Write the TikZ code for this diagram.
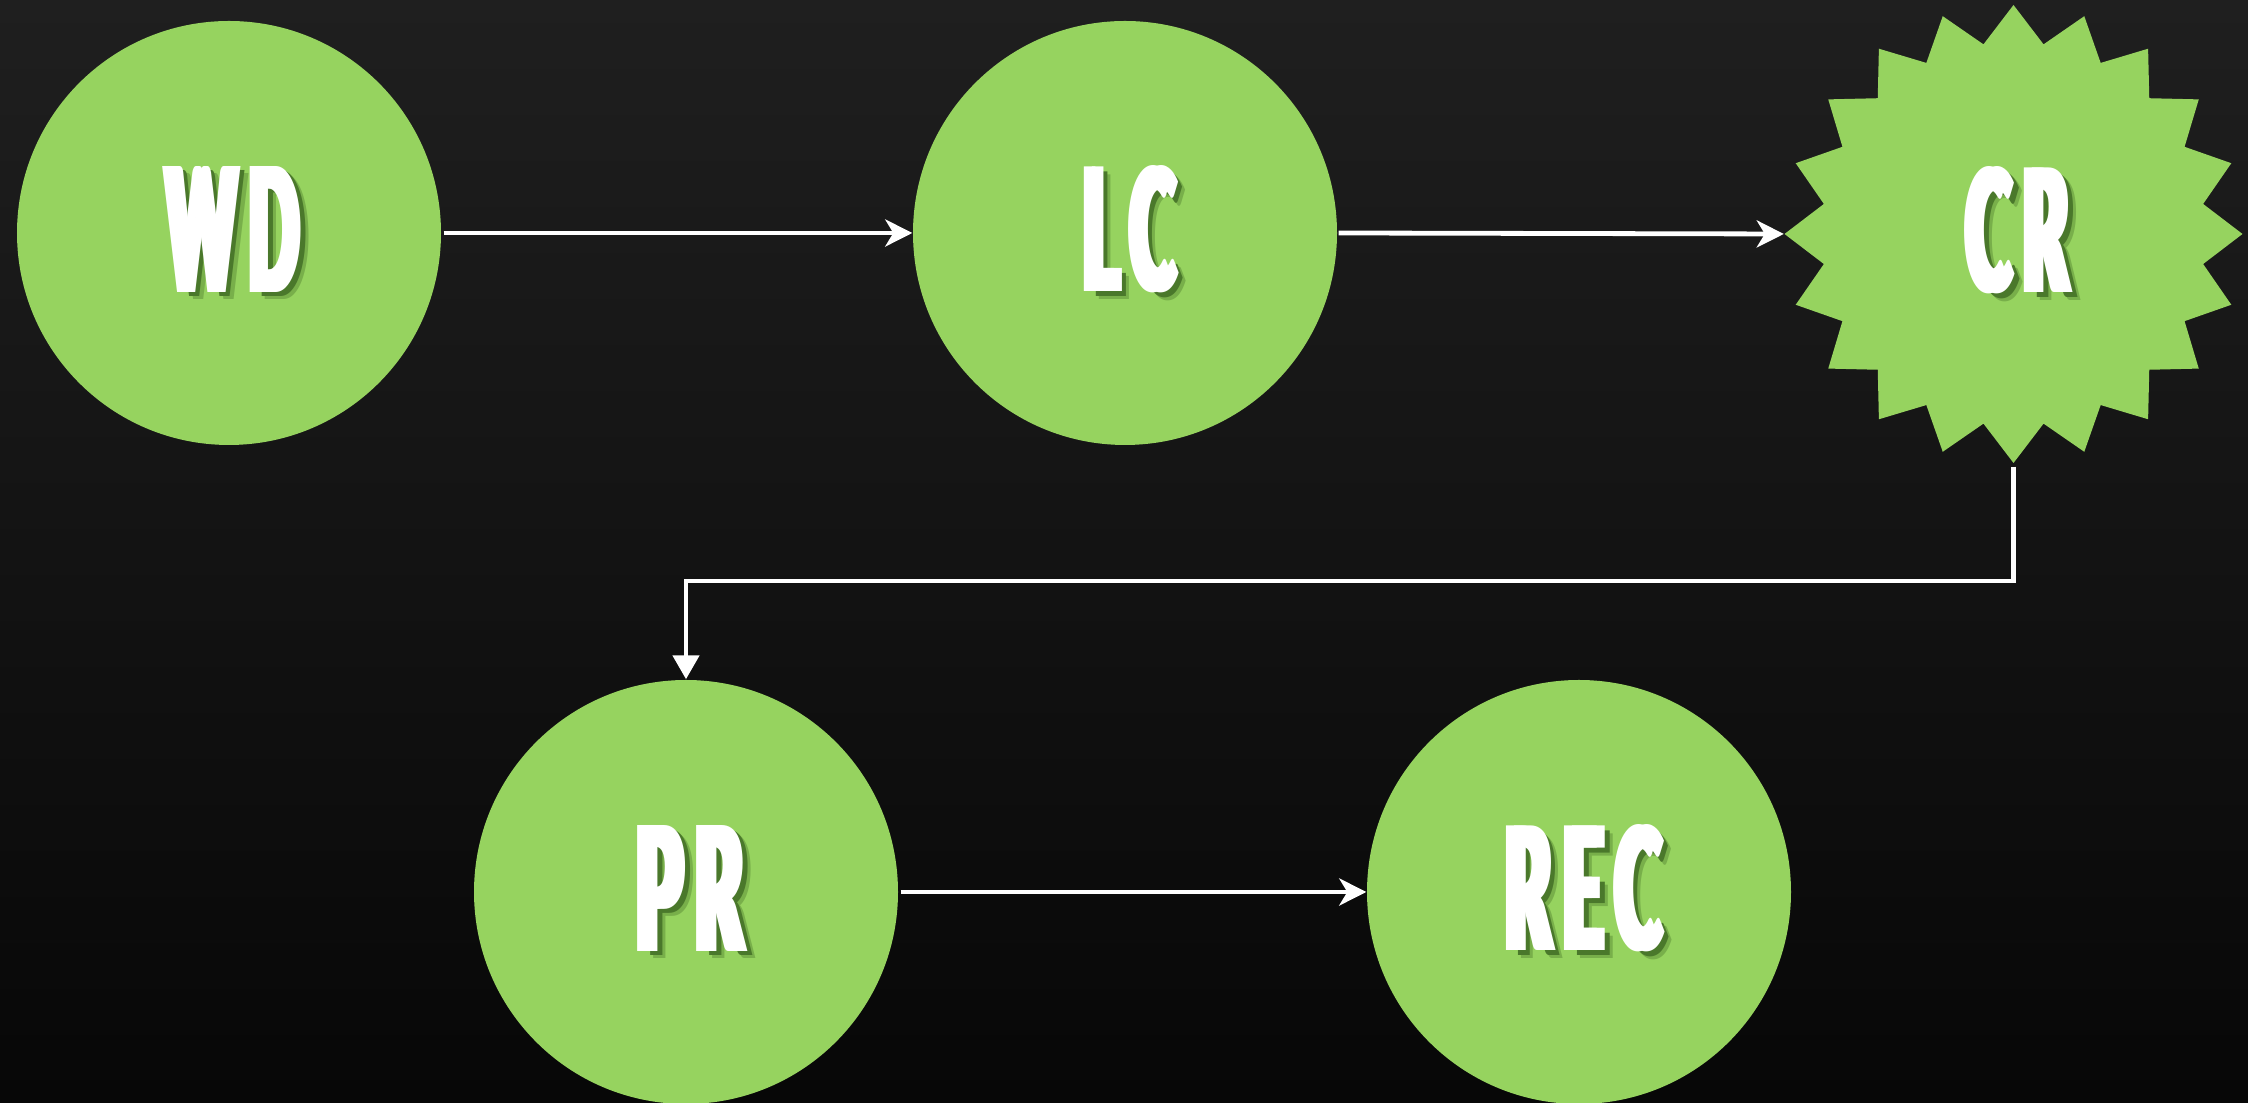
\documentclass[tikz,border=0pt]{standalone}
\usepackage{fontspec}
\usepackage{graphicx}
\usetikzlibrary{arrows.meta}
\IfFontExistsTF{Lato Black}
  {\newfontfamily\labfont{Lato Black}[LetterSpace=18]}
  {\newfontfamily\labfontbase{Liberation Sans}[LetterSpace=18]\newcommand\labfont{\labfontbase\bfseries}}
\definecolor{bgtop}{HTML}{1F1F1F}
\definecolor{bgbot}{HTML}{070707}
\definecolor{nodegreen}{HTML}{96D35F}
\definecolor{shaddark}{HTML}{4A782B}
\newcommand\fit[2]{\resizebox{#1}{1.26cm}{#2}}
\newcommand\shlayer[4]{\makebox[0pt][l]{\hspace{#1}\raisebox{-#2}{\color{#3}#4}}}
% white letters drawn twice, 0.08cm apart, to thicken the stems; soft shadow below right
\newcommand\lab[2]{%
  \shlayer{0.155cm}{0.075cm}{nodegreen!60!shaddark}{\fit{#1}{#2}}%
  \shlayer{0.125cm}{0.045cm}{shaddark}{\fit{#1}{#2}}%
  \shlayer{0.08cm}{0cm}{white}{\fit{#1}{#2}}%
  {\color{white}\fit{#1}{#2}}\hspace{0.08cm}}
\tikzset{
  roundnode/.style={circle, fill=nodegreen, minimum size=4.24cm, inner sep=0pt,
    font=\labfont\fontsize{50}{50}\selectfont},
  starnode/.style={circle, minimum size=4.58cm, inner sep=0pt,
    font=\labfont\fontsize{50}{50}\selectfont},
  flowline/.style={draw=white, line width=0.048cm},
  barbtip/.style={flowline, -{Stealth[length=0.27cm,width=0.27cm,inset=0.08cm]}},
  tritip/.style={flowline, -{Triangle[length=0.24cm,width=0.26cm]}}
}
\begin{document}
\begin{tikzpicture}
  \shade[top color=bgtop, bottom color=bgbot] (0,0) rectangle (22.48,11.03);
  \useasboundingbox (0,0) rectangle (22.48,11.03);

  % starburst outline of the CR node
  \fill[nodegreen, shift={(20.135,8.69)}]
    plot[samples at={0,...,39}] ({90+9*\x}:{ifthenelse(mod(\x,2)==0,2.29,1.92)}) -- cycle;

  \node[roundnode] (WD)  at (2.29,8.70)   {\lab{1.33cm}{WD}};
  \node[roundnode] (LC)  at (11.25,8.70)  {\lab{0.92cm}{LC}};
  \node[starnode]  (CR)  at (20.135,8.69) {\lab{1.02cm}{CR}};
  \node[roundnode] (PR)  at (6.86,2.11)   {\lab{1.07cm}{PR}};
  \node[roundnode] (REC) at (15.79,2.11)  {\lab{1.56cm}{REC}};

  \coordinate (k1) at (20.135,5.22);
  \coordinate (k2) at (6.86,5.22);

  \draw[barbtip, shorten <=0.02cm] (WD.east) -- (LC.west);
  \draw[barbtip, shorten <=0.01cm] (LC.east) -- (CR.west);
  \draw[tritip, shorten <=0.03cm] (CR.south) -- (k1) -- (k2) -- (PR.north);
  \draw[barbtip, shorten <=0.02cm] (PR.east) -- (REC.west);
\end{tikzpicture}
\end{document}
